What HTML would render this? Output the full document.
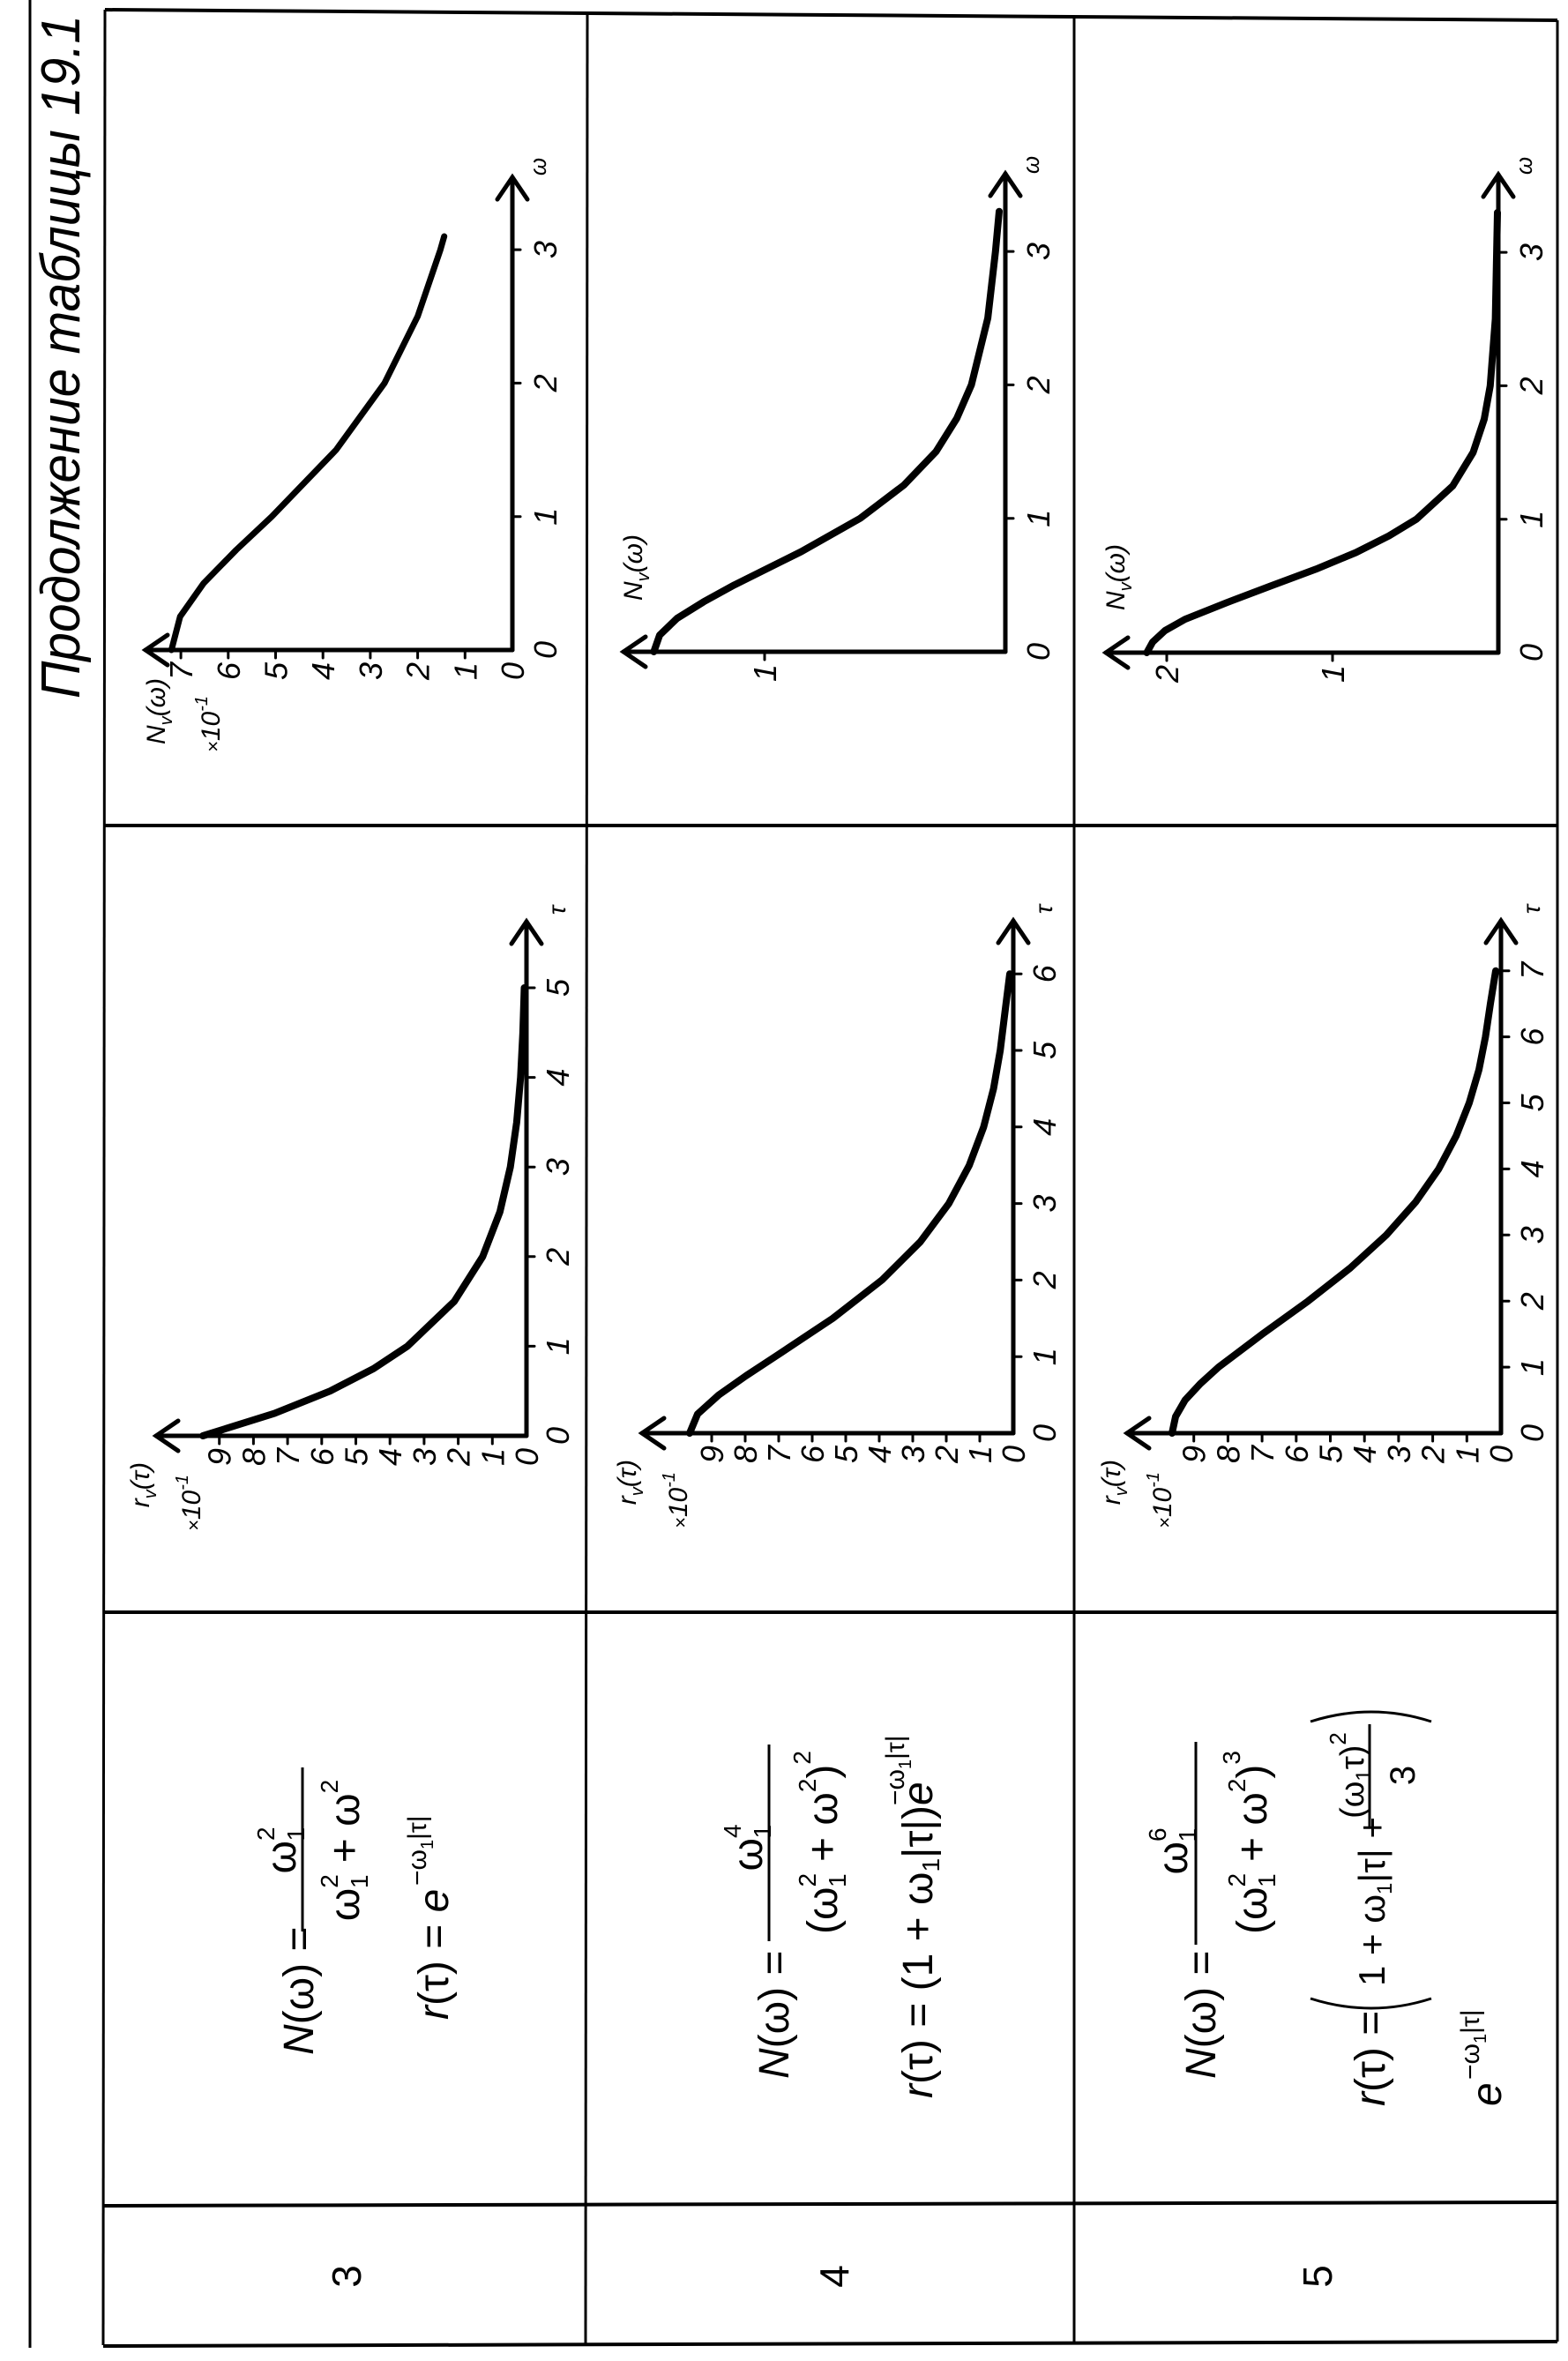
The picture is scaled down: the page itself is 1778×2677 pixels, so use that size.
<!DOCTYPE html>
<html><head><meta charset="utf-8"><style>
html,body{margin:0;padding:0;background:#fff;}
svg{display:block;}
text{font-family:"Liberation Sans",sans-serif;fill:#000;}
.tk{font-size:36px;font-style:italic;}
.f{font-size:48px;}
.e{font-size:30px;}
</style></head><body>
<svg width="1778" height="2677" viewBox="0 0 1778 2677" xmlns="http://www.w3.org/2000/svg">
<line x1="34" y1="0" x2="34" y2="2662" stroke="#000" stroke-width="3"/>
<g transform="translate(90,792) rotate(-90)"><text x="0" y="0" font-size="62" font-style="italic" textLength="775" lengthAdjust="spacingAndGlyphs">Продолжение таблицы 19.1</text></g>

<g stroke="#000" fill="none">
<line x1="119" y1="11" x2="1766" y2="23" stroke-width="4"/>
<line x1="119" y1="11" x2="117" y2="2659" stroke-width="3"/>
<line x1="666" y1="14" x2="664" y2="2658" stroke-width="3"/>
<line x1="1218" y1="18" x2="1218" y2="2656" stroke-width="3"/>
<line x1="1766" y1="23" x2="1766" y2="2655" stroke-width="3"/>
<line x1="117" y1="936" x2="1766" y2="936" stroke-width="4"/>
<line x1="117" y1="1828" x2="1766" y2="1828" stroke-width="4"/>
<line x1="117" y1="2501" x2="1766" y2="2497" stroke-width="4"/>
<line x1="117" y1="2660" x2="1766" y2="2655" stroke-width="4"/>
</g>

<g transform="translate(409,2581) rotate(-90)"><text x="0" y="0" font-size="46" text-anchor="middle">3</text></g>
<g transform="translate(962,2581) rotate(-90)"><text x="0" y="0" font-size="46" text-anchor="middle">4</text></g>
<g transform="translate(1510,2581) rotate(-90)"><text x="0" y="0" font-size="46" text-anchor="middle">5</text></g>

<!-- row 3 -->
<g transform="translate(355,2330) rotate(-90)">
<text class="f" x="0" y="0"><tspan font-style="italic">N</tspan>(ω) =</text>
<line x1="140" y1="-12" x2="326" y2="-12" stroke="#000" stroke-width="3"/>
<text class="f" x="232" y="-20" text-anchor="middle">ω<tspan font-size="28" dy="-24">2</tspan><tspan font-size="28" dx="-16" dy="34">1</tspan></text>
<text class="f" x="232" y="52" text-anchor="middle">ω<tspan font-size="28" dy="-24">2</tspan><tspan font-size="28" dx="-16" dy="34">1</tspan><tspan dy="-10"> + ω</tspan><tspan font-size="28" dy="-24">2</tspan></text>
</g>
<g transform="translate(508,2290) rotate(-90)">
<text class="f" x="0" y="0"><tspan font-style="italic">r</tspan>(τ) = <tspan font-style="italic">e</tspan></text>
<text class="e" x="152" y="-25">−ω<tspan font-size="20" dy="8">1</tspan><tspan dy="-8">|τ|</tspan></text>
</g>
<!-- row 4 -->
<g transform="translate(894,2357) rotate(-90)">
<text class="f" x="0" y="0"><tspan font-style="italic">N</tspan>(ω) =</text>
<line x1="156" y1="-22" x2="379" y2="-22" stroke="#000" stroke-width="3"/>
<text class="f" x="262" y="-30" text-anchor="middle">ω<tspan font-size="28" dy="-24">4</tspan><tspan font-size="28" dx="-16" dy="34">1</tspan></text>
<text class="f" x="268" y="55" text-anchor="middle">(ω<tspan font-size="28" dy="-24">2</tspan><tspan font-size="28" dx="-16" dy="34">1</tspan><tspan dy="-10"> + ω</tspan><tspan font-size="28" dy="-24">2</tspan><tspan dy="24">)</tspan><tspan font-size="28" dy="-30">2</tspan></text>
</g>
<g transform="translate(1057,2379) rotate(-90)">
<text class="f" x="0" y="0"><tspan font-style="italic">r</tspan>(τ) = (1 + ω<tspan font-size="28" dy="8">1</tspan><tspan dy="-8">|τ|)</tspan><tspan font-style="italic">e</tspan></text>
<text class="e" x="332" y="-32">−ω<tspan font-size="20" dy="8">1</tspan><tspan dy="-8">|τ|</tspan></text>
</g>
<!-- row 5 -->
<g transform="translate(1378,2357) rotate(-90)">
<text class="f" x="0" y="0"><tspan font-style="italic">N</tspan>(ω) =</text>
<line x1="152" y1="-22" x2="382" y2="-22" stroke="#000" stroke-width="3"/>
<text class="f" x="258" y="-32" text-anchor="middle">ω<tspan font-size="28" dy="-24">6</tspan><tspan font-size="28" dx="-16" dy="34">1</tspan></text>
<text class="f" x="268" y="58" text-anchor="middle">(ω<tspan font-size="28" dy="-24">2</tspan><tspan font-size="28" dx="-16" dy="34">1</tspan><tspan dy="-10"> + ω</tspan><tspan font-size="28" dy="-24">2</tspan><tspan dy="24">)</tspan><tspan font-size="28" dy="-30">3</tspan></text>
</g>
<g transform="translate(1570,2388) rotate(-90)">
<text class="f" x="0" y="0"><tspan font-style="italic">r</tspan>(τ) =</text>
<path d="M122 -84 Q100 -15 122 53" stroke="#000" stroke-width="3" fill="none"/>
<text x="136" y="0" font-size="42">1 + ω<tspan font-size="24" dy="8">1</tspan><tspan dy="-8">|τ| +</tspan></text>
<line x1="317" y1="-17" x2="433" y2="-17" stroke="#000" stroke-width="3"/>
<text x="375" y="-24" text-anchor="middle" font-size="38">(ω<tspan font-size="24" dy="8">1</tspan><tspan dy="-8">τ)</tspan><tspan font-size="26" dy="-20">2</tspan></text>
<text x="375" y="34" text-anchor="middle" font-size="40">3</text>
<path d="M436 -84 Q458 -15 436 53" stroke="#000" stroke-width="3" fill="none"/>
</g>
<g transform="translate(1702,2388) rotate(-90)">
<text class="f" x="0" y="0"><tspan font-style="italic">e</tspan></text>
<text class="e" x="30" y="-25">−ω<tspan font-size="20" dy="8">1</tspan><tspan dy="-8">|τ|</tspan></text>
</g>

<!-- r graphs -->
<g transform="translate(597,1628) rotate(-90)">
<g stroke="#000" stroke-width="5" fill="none" stroke-linecap="round">
<line x1="0" y1="0" x2="583" y2="0"/><polyline points="558,-17 583,0 558,17"/>
<line x1="0" y1="0" x2="0" y2="-420"/><polyline points="-17,-395 0,-420 17,-395"/>
<g stroke-width="3"><line x1="101.6" y1="0" x2="101.6" y2="9"/><line x1="203.2" y1="0" x2="203.2" y2="9"/><line x1="304.8" y1="0" x2="304.8" y2="9"/><line x1="406.4" y1="0" x2="406.4" y2="9"/><line x1="508" y1="0" x2="508" y2="9"/>
<line x1="0" y1="-38.7" x2="-9" y2="-38.7"/><line x1="0" y1="-77.4" x2="-9" y2="-77.4"/><line x1="0" y1="-116.1" x2="-9" y2="-116.1"/><line x1="0" y1="-154.8" x2="-9" y2="-154.8"/><line x1="0" y1="-193.5" x2="-9" y2="-193.5"/><line x1="0" y1="-232.2" x2="-9" y2="-232.2"/><line x1="0" y1="-270.9" x2="-9" y2="-270.9"/><line x1="0" y1="-309.6" x2="-9" y2="-309.6"/><line x1="0" y1="-348.3" x2="-9" y2="-348.3"/></g>
<polyline stroke-width="8" stroke-linejoin="round" points="0,-367 25.4,-285.8 50.8,-222.6 76.2,-173.4 101.6,-135 152.4,-81.9 203.2,-49.7 254,-30.1 304.8,-18.3 355.6,-11.1 406.4,-6.7 457.2,-4.1 508,-2.5"/>
</g>
<g class="tk" text-anchor="middle"><text x="0" y="48">0</text><text x="101.6" y="48">1</text><text x="203.2" y="48">2</text><text x="304.8" y="48">3</text><text x="406.4" y="48">4</text><text x="508" y="48">5</text><text x="596" y="44" font-size="28">τ</text></g>
<g class="tk" text-anchor="end"><text x="-14" y="13">0</text><text x="-14" y="-25.7">1</text><text x="-14" y="-64.4">2</text><text x="-14" y="-103.1">3</text><text x="-14" y="-141.8">4</text><text x="-14" y="-180.5">5</text><text x="-14" y="-219.2">6</text><text x="-14" y="-257.9">7</text><text x="-14" y="-296.6">8</text><text x="-14" y="-335.3">9</text>
<text x="-30" y="-428" font-size="30">r<tspan font-size="20" dy="8">v</tspan><tspan dy="-8">(τ)</tspan></text>
<text x="-44" y="-370" font-size="30"><tspan font-size="22">×</tspan>10<tspan font-size="20" dy="-14">-1</tspan></text></g>
</g>
<g transform="translate(1149,1625) rotate(-90)">
<g stroke="#000" stroke-width="5" fill="none" stroke-linecap="round">
<line x1="0" y1="0" x2="581" y2="0"/><polyline points="556,-17 581,0 556,17"/>
<line x1="0" y1="0" x2="0" y2="-421"/><polyline points="-17,-396 0,-421 17,-396"/>
<g stroke-width="3"><line x1="86.8" y1="0" x2="86.8" y2="9"/><line x1="173.6" y1="0" x2="173.6" y2="9"/><line x1="260.4" y1="0" x2="260.4" y2="9"/><line x1="347.2" y1="0" x2="347.2" y2="9"/><line x1="434" y1="0" x2="434" y2="9"/><line x1="520.8" y1="0" x2="520.8" y2="9"/>
<line x1="0" y1="-38" x2="-9" y2="-38"/><line x1="0" y1="-76" x2="-9" y2="-76"/><line x1="0" y1="-114" x2="-9" y2="-114"/><line x1="0" y1="-152" x2="-9" y2="-152"/><line x1="0" y1="-190" x2="-9" y2="-190"/><line x1="0" y1="-228" x2="-9" y2="-228"/><line x1="0" y1="-266" x2="-9" y2="-266"/><line x1="0" y1="-304" x2="-9" y2="-304"/><line x1="0" y1="-342" x2="-9" y2="-342"/></g>
<polyline stroke-width="8" stroke-linejoin="round" points="0,-367 21.7,-358 43.4,-333.9 65.1,-303 86.8,-270 130.2,-204.7 173.6,-149 217,-105.4 260.4,-73.1 303.8,-49.9 347.2,-33.6 390.6,-22.4 434,-14.8 477,-9.5 520.8,-4"/>
</g>
<g class="tk" text-anchor="middle"><text x="0" y="48">0</text><text x="86.8" y="48">1</text><text x="173.6" y="48">2</text><text x="260.4" y="48">3</text><text x="347.2" y="48">4</text><text x="434" y="48">5</text><text x="520.8" y="48">6</text><text x="594" y="44" font-size="28">τ</text></g>
<g class="tk" text-anchor="end"><text x="-14" y="13">0</text><text x="-14" y="-25">1</text><text x="-14" y="-63">2</text><text x="-14" y="-101">3</text><text x="-14" y="-139">4</text><text x="-14" y="-177">5</text><text x="-14" y="-215">6</text><text x="-14" y="-253">7</text><text x="-14" y="-291">8</text><text x="-14" y="-329">9</text>
<text x="-30" y="-428" font-size="30">r<tspan font-size="20" dy="8">v</tspan><tspan dy="-8">(τ)</tspan></text>
<text x="-44" y="-370" font-size="30"><tspan font-size="22">×</tspan>10<tspan font-size="20" dy="-14">-1</tspan></text></g>
</g>
<g transform="translate(1702,1625) rotate(-90)">
<g stroke="#000" stroke-width="5" fill="none" stroke-linecap="round">
<line x1="0" y1="0" x2="581" y2="0"/><polyline points="556,-17 581,0 556,17"/>
<line x1="0" y1="0" x2="0" y2="-424"/><polyline points="-17,-399 0,-424 17,-399"/>
<g stroke-width="3"><line x1="74.9" y1="0" x2="74.9" y2="9"/><line x1="149.8" y1="0" x2="149.8" y2="9"/><line x1="224.7" y1="0" x2="224.7" y2="9"/><line x1="299.6" y1="0" x2="299.6" y2="9"/><line x1="374.5" y1="0" x2="374.5" y2="9"/><line x1="449.4" y1="0" x2="449.4" y2="9"/><line x1="524.3" y1="0" x2="524.3" y2="9"/>
<line x1="0" y1="-38.7" x2="-9" y2="-38.7"/><line x1="0" y1="-77.4" x2="-9" y2="-77.4"/><line x1="0" y1="-116.1" x2="-9" y2="-116.1"/><line x1="0" y1="-154.8" x2="-9" y2="-154.8"/><line x1="0" y1="-193.5" x2="-9" y2="-193.5"/><line x1="0" y1="-232.2" x2="-9" y2="-232.2"/><line x1="0" y1="-270.9" x2="-9" y2="-270.9"/><line x1="0" y1="-309.6" x2="-9" y2="-309.6"/><line x1="0" y1="-348.3" x2="-9" y2="-348.3"/></g>
<polyline stroke-width="8" stroke-linejoin="round" points="0,-373 18.7,-369 37.5,-358.2 56,-341 74.9,-320.2 112.4,-270.5 149.8,-218.7 187.3,-170.9 224.7,-130 262.2,-96.7 299.6,-70.6 337.1,-50.8 374.5,-36 412,-25 449.4,-17.6 487,-12 524.3,-6"/>
</g>
<g class="tk" text-anchor="middle"><text x="0" y="48">0</text><text x="74.9" y="48">1</text><text x="149.8" y="48">2</text><text x="224.7" y="48">3</text><text x="299.6" y="48">4</text><text x="374.5" y="48">5</text><text x="449.4" y="48">6</text><text x="524.3" y="48">7</text><text x="594" y="44" font-size="28">τ</text></g>
<g class="tk" text-anchor="end"><text x="-14" y="13">0</text><text x="-14" y="-25.7">1</text><text x="-14" y="-64.4">2</text><text x="-14" y="-103.1">3</text><text x="-14" y="-141.8">4</text><text x="-14" y="-180.5">5</text><text x="-14" y="-219.2">6</text><text x="-14" y="-257.9">7</text><text x="-14" y="-296.6">8</text><text x="-14" y="-335.3">9</text>
<text x="-30" y="-432" font-size="30">r<tspan font-size="20" dy="8">v</tspan><tspan dy="-8">(τ)</tspan></text>
<text x="-44" y="-374" font-size="30"><tspan font-size="22">×</tspan>10<tspan font-size="20" dy="-14">-1</tspan></text></g>
</g>

<!-- N graphs -->
<g transform="translate(581,737) rotate(-90)">
<g stroke="#000" stroke-width="5" fill="none" stroke-linecap="round">
<line x1="0" y1="0" x2="536" y2="0"/><polyline points="511,-17 536,0 511,17"/>
<line x1="0" y1="0" x2="0" y2="-416"/><polyline points="-17,-391 0,-416 17,-391"/>
<g stroke-width="3"><line x1="151.3" y1="0" x2="151.3" y2="9"/><line x1="302.6" y1="0" x2="302.6" y2="9"/><line x1="453.9" y1="0" x2="453.9" y2="9"/>
<line x1="0" y1="-53.7" x2="-9" y2="-53.7"/><line x1="0" y1="-107.4" x2="-9" y2="-107.4"/><line x1="0" y1="-161.1" x2="-9" y2="-161.1"/><line x1="0" y1="-214.8" x2="-9" y2="-214.8"/><line x1="0" y1="-268.5" x2="-9" y2="-268.5"/><line x1="0" y1="-322.2" x2="-9" y2="-322.2"/><line x1="0" y1="-375.9" x2="-9" y2="-375.9"/></g>
<polyline stroke-width="7" stroke-linejoin="round" points="0,-386.6 37.8,-376.8 75.7,-350.1 113.5,-313.1 151.3,-272.8 227,-199.8 302.6,-145 378.3,-107.4 453.9,-81.6 469,-77.3"/>
</g>
<g class="tk" text-anchor="middle"><text x="0" y="50">0</text><text x="151.3" y="50">1</text><text x="302.6" y="50">2</text><text x="453.9" y="50">3</text><text x="548" y="38" font-size="26">ω</text></g>
<g class="tk" text-anchor="end"><text x="-14" y="13">0</text><text x="-14" y="-40.7">1</text><text x="-14" y="-94.4">2</text><text x="-14" y="-148.1">3</text><text x="-14" y="-201.8">4</text><text x="-14" y="-255.5">5</text><text x="-14" y="-309.2">6</text><text x="-14" y="-362.9">7</text>
<text x="-32" y="-394" font-size="30">N<tspan font-size="20" dy="8">v</tspan><tspan dy="-8">(ω)</tspan></text>
<text x="-52" y="-332" font-size="30"><tspan font-size="22">×</tspan>10<tspan font-size="20" dy="-14">-1</tspan></text></g>
</g>
<g transform="translate(1140,739) rotate(-90)">
<g stroke="#000" stroke-width="5" fill="none" stroke-linecap="round">
<line x1="0" y1="0" x2="542" y2="0"/><polyline points="517,-17 542,0 517,17"/>
<line x1="0" y1="0" x2="0" y2="-433"/><polyline points="-17,-408 0,-433 17,-408"/>
<g stroke-width="3"><line x1="151.3" y1="0" x2="151.3" y2="9"/><line x1="302.6" y1="0" x2="302.6" y2="9"/><line x1="453.9" y1="0" x2="453.9" y2="9"/>
<line x1="0" y1="-273" x2="-9" y2="-273"/></g>
<polyline stroke-width="8" stroke-linejoin="round" points="0,-398.6 18.9,-392 37.8,-372.4 56.7,-342 75.7,-307.4 113.5,-231.5 151.3,-164.6 189,-115 227,-78.6 264.8,-55 302.6,-38.5 378.3,-19.9 453.9,-11.2 499.3,-7"/>
</g>
<g class="tk" text-anchor="middle"><text x="0" y="50">0</text><text x="151.3" y="50">1</text><text x="302.6" y="50">2</text><text x="453.9" y="50">3</text><text x="552" y="38" font-size="26">ω</text></g>
<g class="tk" text-anchor="end"><text x="-14" y="-260">1</text></g>
<text x="58" y="-412" font-size="30" font-style="italic">N<tspan font-size="20" dy="8">v</tspan><tspan dy="-8">(ω)</tspan></text>
</g>
<g transform="translate(1699,740) rotate(-90)">
<g stroke="#000" stroke-width="5" fill="none" stroke-linecap="round">
<line x1="0" y1="0" x2="542" y2="0"/><polyline points="517,-17 542,0 517,17"/>
<line x1="0" y1="0" x2="0" y2="-445"/><polyline points="-17,-420 0,-445 17,-420"/>
<g stroke-width="3"><line x1="151.3" y1="0" x2="151.3" y2="9"/><line x1="302.6" y1="0" x2="302.6" y2="9"/><line x1="453.9" y1="0" x2="453.9" y2="9"/>
<line x1="0" y1="-188" x2="-9" y2="-188"/><line x1="0" y1="-376" x2="-9" y2="-376"/></g>
<polyline stroke-width="8" stroke-linejoin="round" points="0,-398.6 12,-392 25,-378 37.8,-355.3 56.7,-308 75.7,-257.7 94.6,-207 113.5,-161.5 132.4,-124 151.3,-92.9 189.1,-51.7 227,-28.6 264.8,-16 302.6,-9.2 378.3,-3.4 499,-1"/>
</g>
<g class="tk" text-anchor="middle"><text x="0" y="50">0</text><text x="151.3" y="50">1</text><text x="302.6" y="50">2</text><text x="453.9" y="50">3</text><text x="552" y="38" font-size="26">ω</text></g>
<g class="tk" text-anchor="end"><text x="-14" y="-175">1</text><text x="-14" y="-363">2</text></g>
<text x="48" y="-424" font-size="30" font-style="italic">N<tspan font-size="20" dy="8">v</tspan><tspan dy="-8">(ω)</tspan></text>
</g>
</svg>
</body></html>
